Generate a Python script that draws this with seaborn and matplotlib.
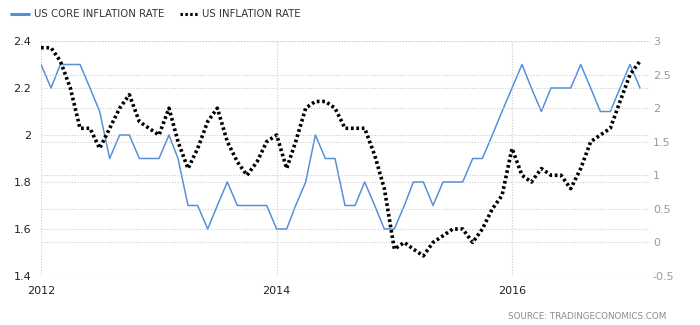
import matplotlib
matplotlib.use("Agg")
import matplotlib.pyplot as plt
from matplotlib.lines import Line2D
import pandas as pd
import seaborn as sns

# Monthly observations, Jan 2012 - Feb 2017 (year-over-year, %)
months = pd.date_range("2012-01-01", "2017-02-01", freq="MS")

core_rate = [
    2.3, 2.2, 2.3, 2.3, 2.3, 2.2, 2.1, 1.9, 2.0, 2.0, 1.9, 1.9,   # 2012
    1.9, 2.0, 1.9, 1.7, 1.7, 1.6, 1.7, 1.8, 1.7, 1.7, 1.7, 1.7,   # 2013
    1.6, 1.6, 1.7, 1.8, 2.0, 1.9, 1.9, 1.7, 1.7, 1.8, 1.7, 1.6,   # 2014
    1.6, 1.7, 1.8, 1.8, 1.7, 1.8, 1.8, 1.8, 1.9, 1.9, 2.0, 2.1,   # 2015
    2.2, 2.3, 2.2, 2.1, 2.2, 2.2, 2.2, 2.3, 2.2, 2.1, 2.1, 2.2,   # 2016
    2.3, 2.2,                                                     # 2017
]
inflation_rate = [
    2.9, 2.9, 2.7, 2.3, 1.7, 1.7, 1.4, 1.7, 2.0, 2.2, 1.8, 1.7,   # 2012
    1.6, 2.0, 1.5, 1.1, 1.4, 1.8, 2.0, 1.5, 1.2, 1.0, 1.2, 1.5,   # 2013
    1.6, 1.1, 1.5, 2.0, 2.1, 2.1, 2.0, 1.7, 1.7, 1.7, 1.3, 0.8,   # 2014
    -0.1, 0.0, -0.1, -0.2, 0.0, 0.1, 0.2, 0.2, 0.0, 0.2, 0.5, 0.7,  # 2015
    1.4, 1.0, 0.9, 1.1, 1.0, 1.0, 0.8, 1.1, 1.5, 1.6, 1.7, 2.1,   # 2016
    2.5, 2.7,                                                     # 2017
]

core_label = "US CORE INFLATION RATE"
cpi_label = "US INFLATION RATE"
left_ticks = [1.4, 1.6, 1.8, 2.0, 2.2, 2.4]
left_tick_labels = ["1.4", "1.6", "1.8", "2", "2.2", "2.4"]
right_ticks = [-0.5, 0, 0.5, 1, 1.5, 2, 2.5, 3]
right_tick_labels = ["-0.5", "0", "0.5", "1", "1.5", "2", "2.5", "3"]
year_ticks = ["2012", "2014", "2016"]

df = pd.DataFrame({"date": months, "core": core_rate, "cpi": inflation_rate})

sns.set_style("white")
plt.rcParams["font.family"] = ["DejaVu Sans"]

blue = "#5a8fd8"
grid_color = "#cccccc"

fig = plt.figure(figsize=(7.0, 3.25), dpi=100)
ax = fig.add_axes([41 / 700, 49 / 325, 609 / 700, 235 / 325])
ax2 = ax.twinx()

sns.lineplot(data=df, x="date", y="core", ax=ax, color=blue, linewidth=1.1)
sns.lineplot(data=df, x="date", y="cpi", ax=ax2, color="black",
             linewidth=2.6, linestyle=(0, (0.75, 0.75)))
for ln in ax2.get_lines():
    ln.set_dash_capstyle("butt")

ax.set_xlim(pd.Timestamp("2012-01-01"), pd.Timestamp("2017-03-04"))
ax.set_ylim(1.4, 2.4)
ax2.set_ylim(-0.5, 3.0)

ax.set_yticks(left_ticks)
ax.set_yticklabels(left_tick_labels)
ax2.set_yticks(right_ticks)
ax2.set_yticklabels(right_tick_labels)
ax.set_xticks([pd.Timestamp(f"{y}-01-01") for y in year_ticks])
ax.set_xticklabels(year_ticks)

for a in (ax, ax2):
    a.set_xlabel("")
    a.set_ylabel("")
    for s in a.spines.values():
        s.set_visible(False)

ax.grid(True, axis="both", linestyle=(0, (1, 1.5)), color=grid_color, linewidth=0.8)
ax2.grid(True, axis="y", linestyle=(0, (1, 1.5)), color=grid_color, linewidth=0.8)
ax.set_axisbelow(True)

ax.tick_params(axis="y", length=0, pad=7, labelsize=8, labelcolor="#222222")
ax.tick_params(axis="x", length=4, width=0.8, color=grid_color, pad=3,
               labelsize=8, labelcolor="#222222")
ax2.tick_params(axis="y", length=0, pad=2, labelsize=8, labelcolor="#9a9a9a")

handles = [
    Line2D([], [], color=blue, linewidth=2.2),
    Line2D([], [], color="black", linewidth=2.2, linestyle=(0, (0.8, 0.8))),
]
fig.legend(handles, [core_label, cpi_label], loc="upper left",
           bbox_to_anchor=(0.003, 1.0), ncol=2, frameon=False, fontsize=7.3,
           handlelength=1.8, handletextpad=0.4, columnspacing=1.6,
           labelcolor="#333333")

fig.text(0.952, 0.012, "SOURCE: TRADINGECONOMICS.COM", ha="right", va="bottom",
         fontsize=6.3, color="#8a8a8a")

fig.savefig("out.png", dpi=100)
